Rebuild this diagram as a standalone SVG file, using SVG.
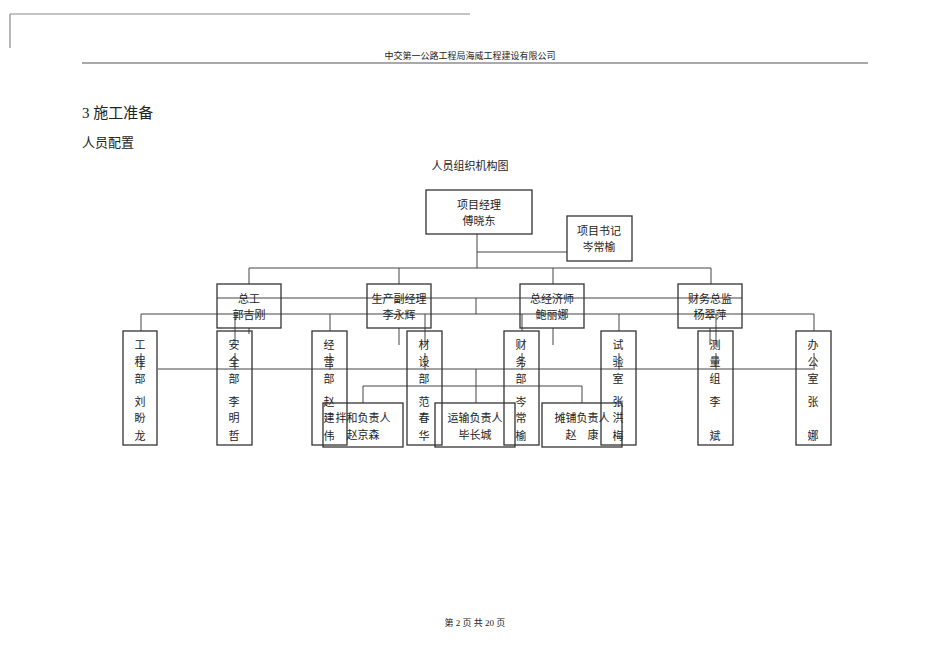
<svg xmlns="http://www.w3.org/2000/svg" width="950" height="672" viewBox="0 0 950 672">
<style>
text{font-family:"Liberation Serif","Noto Sans CJK SC",serif;fill:#222}
.b{fill:#fff;fill-opacity:0;stroke:#333;stroke-width:1.3}
.c line{stroke:#444;stroke-width:1}
.t{font-size:11px;text-anchor:middle}
</style>
<rect width="950" height="672" fill="#fff"/>
<line x1="10" y1="14" x2="470" y2="14" stroke="#888" stroke-width="1.2"/>
<line x1="10" y1="14" x2="10" y2="48" stroke="#888" stroke-width="1.2"/>
<text x="470" y="59" font-size="9" text-anchor="middle">中交第一公路工程局海威工程建设有限公司</text>
<line x1="82" y1="63" x2="868" y2="63" stroke="#555" stroke-width="1"/>
<text x="82" y="118" font-size="15">3 施工准备</text>
<text x="82" y="147" font-size="13">人员配置</text>
<text x="470" y="170" font-size="11" text-anchor="middle">人员组织机构图</text>
<text x="475" y="626" font-size="9" text-anchor="middle">第 2 页 共 20 页</text>

<g class="c" id="connectors">
<line x1="477" y1="234" x2="477" y2="268"/>
<line x1="477" y1="252" x2="567" y2="252"/>
<line x1="249" y1="268" x2="711" y2="268"/>
<line x1="249" y1="268" x2="249" y2="284"/>
<line x1="399" y1="268" x2="399" y2="284"/>
<line x1="553" y1="268" x2="553" y2="284"/>
<line x1="711" y1="268" x2="711" y2="284"/>
<line x1="217" y1="298" x2="742" y2="298"/>
<line x1="476" y1="298" x2="476" y2="314"/>
<line x1="141" y1="314" x2="814" y2="314"/>
<line x1="141" y1="314" x2="141" y2="331"/>
<line x1="235" y1="314" x2="235" y2="345"/>
<line x1="249" y1="328" x2="249" y2="334"/>
<line x1="330" y1="314" x2="330" y2="331"/>
<line x1="425" y1="314" x2="425" y2="345"/>
<line x1="522" y1="314" x2="522" y2="331"/>
<line x1="619" y1="314" x2="619" y2="331"/>
<line x1="716" y1="314" x2="716" y2="345"/>
<line x1="814" y1="314" x2="814" y2="331"/>
<line x1="399" y1="328" x2="399" y2="345"/>
<line x1="553" y1="328" x2="553" y2="345"/>
<line x1="710" y1="328" x2="710" y2="345"/>
<line x1="158" y1="369" x2="813" y2="369"/>
<line x1="141" y1="353" x2="141" y2="370"/>
<line x1="235" y1="353" x2="235" y2="370"/>
<line x1="330" y1="353" x2="330" y2="370"/>
<line x1="425" y1="353" x2="425" y2="370"/>
<line x1="522" y1="353" x2="522" y2="370"/>
<line x1="619" y1="353" x2="619" y2="370"/>
<line x1="716" y1="353" x2="716" y2="370"/>
<line x1="814" y1="353" x2="814" y2="370"/>
<line x1="476" y1="369" x2="476" y2="403"/>
<line x1="363" y1="386" x2="582" y2="386"/>
<line x1="363" y1="386" x2="363" y2="403"/>
<line x1="582" y1="386" x2="582" y2="403"/>
</g>

<g id="pm"><rect class="b" x="426" y="190" width="106" height="44"/><text class="t" x="479" y="209">项目经理</text><text class="t" x="479" y="225">傅晓东</text></g>
<g id="sec"><rect class="b" x="567" y="216" width="65" height="45"/><text class="t" x="599" y="235">项目书记</text><text class="t" x="599" y="251">岑常榆</text></g>
<g id="zg"><rect class="b" x="217" y="284" width="64" height="44"/><text class="t" x="249" y="303">总工</text><text class="t" x="249" y="319">郭吉刚</text></g>
<g id="sc"><rect class="b" x="367" y="284" width="64" height="44"/><text class="t" x="399" y="303">生产副经理</text><text class="t" x="399" y="319">李永辉</text></g>
<g id="jj"><rect class="b" x="520" y="284" width="64" height="44"/><text class="t" x="552" y="303">总经济师</text><text class="t" x="552" y="319">鲍丽娜</text></g>
<g id="cw"><rect class="b" x="678" y="284" width="64" height="44"/><text class="t" x="710" y="303">财务总监</text><text class="t" x="710" y="319">杨翠萍</text></g>

<g id="d1"><rect class="b" x="123" y="331" width="34" height="114"/><text class="t" x="140"><tspan x="140" y="349">工</tspan><tspan x="140" y="366">程</tspan><tspan x="140" y="383">部</tspan><tspan x="140" y="406">刘</tspan><tspan x="140" y="422">盼</tspan><tspan x="140" y="440">龙</tspan></text></g>
<g id="d2"><rect class="b" x="217" y="331" width="35" height="114"/><text class="t"><tspan x="234" y="349">安</tspan><tspan x="234" y="366">全</tspan><tspan x="234" y="383">部</tspan><tspan x="234" y="406">李</tspan><tspan x="234" y="422">明</tspan><tspan x="234" y="440">哲</tspan></text></g>
<g id="d3"><rect class="b" x="312" y="331" width="35" height="114"/><text class="t"><tspan x="329" y="349">经</tspan><tspan x="329" y="366">营</tspan><tspan x="329" y="383">部</tspan><tspan x="329" y="406">赵</tspan><tspan x="329" y="422">建</tspan><tspan x="329" y="440">伟</tspan></text></g>
<g id="d4"><rect class="b" x="407" y="331" width="35" height="114"/><text class="t"><tspan x="424" y="349">材</tspan><tspan x="424" y="366">设</tspan><tspan x="424" y="383">部</tspan><tspan x="424" y="406">范</tspan><tspan x="424" y="422">春</tspan><tspan x="424" y="440">华</tspan></text></g>
<g id="d5"><rect class="b" x="504" y="331" width="35" height="114"/><text class="t"><tspan x="521" y="349">财</tspan><tspan x="521" y="366">务</tspan><tspan x="521" y="383">部</tspan><tspan x="521" y="406">岑</tspan><tspan x="521" y="422">常</tspan><tspan x="521" y="440">榆</tspan></text></g>
<g id="d6"><rect class="b" x="601" y="331" width="35" height="114"/><text class="t"><tspan x="618" y="349">试</tspan><tspan x="618" y="366">验</tspan><tspan x="618" y="383">室</tspan><tspan x="618" y="406">张</tspan><tspan x="618" y="422">洪</tspan><tspan x="618" y="440">梅</tspan></text></g>
<g id="d7"><rect class="b" x="698" y="331" width="35" height="114"/><text class="t"><tspan x="715" y="349">测</tspan><tspan x="715" y="366">量</tspan><tspan x="715" y="383">组</tspan><tspan x="715" y="406">李</tspan><tspan x="715" y="440">斌</tspan></text></g>
<g id="d8"><rect class="b" x="796" y="331" width="35" height="114"/><text class="t"><tspan x="813" y="349">办</tspan><tspan x="813" y="366">公</tspan><tspan x="813" y="383">室</tspan><tspan x="813" y="406">张</tspan><tspan x="813" y="440">娜</tspan></text></g>

<g id="bh"><rect class="b" x="323" y="403" width="80" height="44"/><text class="t" x="363" y="422">拌和负责人</text><text class="t" x="363" y="439">赵京森</text></g>
<g id="ys"><rect class="b" x="435" y="403" width="80" height="44"/><text class="t" x="475" y="422">运输负责人</text><text class="t" x="475" y="439">毕长城</text></g>
<g id="tp"><rect class="b" x="542" y="403" width="80" height="44"/><text class="t" x="582" y="422">摊铺负责人</text><text class="t" x="582" y="439">赵　康</text></g>
</svg>
